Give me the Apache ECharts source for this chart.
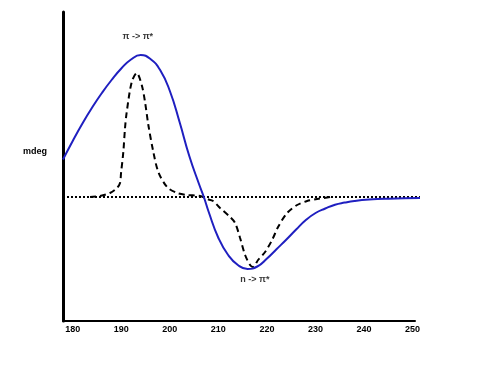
<!DOCTYPE html>
<html>
<head>
<meta charset="utf-8">
<script src="https://cdn.jsdelivr.net/npm/echarts@6/dist/echarts.min.js"></script>
<style>html,body{margin:0;padding:0;background:#fff}#c{width:489px;height:367px}</style>
</head>
<body>
<div id="c"></div>
<script>
// Wavelength (nm) tick labels
var xTicks = [180, 190, 200, 210, 220, 230, 240, 250];
// Solid blue CD spectrum: [wavelength, mdeg]
var solidCurve = [
  [178, 3.75], [180, 5.6], [182, 7.35], [184, 8.95], [186, 10.4], [188, 11.7],
  [190, 12.85], [192, 13.75], [194, 14.2], [196, 13.8], [198, 12.7], [200, 10.6],
  [202, 7.5], [204, 4.1], [206, 1.3], [207, 0], [208, -1.5], [210, -4.1],
  [212, -5.8], [214, -6.8], [216, -7.2], [218, -6.95], [220, -6.15], [222, -5.2],
  [224, -4.25], [226, -3.25], [228, -2.3], [230, -1.6], [232, -1.15], [234, -0.77],
  [236, -0.56], [238, -0.4], [241, -0.26], [245, -0.17], [251.5, -0.1]
];
// Dashed black spectrum: [wavelength, mdeg]
var dashedCurve = [
  [183.56, 0], [185.62, 0.1], [187.68, 0.4], [189.12, 0.9], [189.74, 1.4],
  [189.95, 2.4], [190.42, 4.5], [190.77, 6.9], [191.12, 8.5], [192.15, 11.5],
  [193.18, 12.4], [194.21, 11.2], [194.89, 9.5], [195.57, 7.2], [196.6, 4.5],
  [197.63, 2.5], [199.42, 1.0], [201.48, 0.4], [203.54, 0.2], [206.22, 0.1],
  [207.66, -0.2], [208.9, -0.4], [210.34, -1.1], [212.4, -2.0], [213.43, -2.6],
  [214.46, -4.1], [215.49, -5.8], [216.52, -6.8], [217.13, -7.0], [218.16, -6.3],
  [219.6, -5.5], [221.05, -4.3], [222.28, -3.0], [224.14, -1.6], [226.2, -0.8],
  [228.26, -0.4], [230.32, -0.2], [233.0, 0]
];
// Zero baseline
var baseline = [[178, 0], [251.5, 0]];
// Annotations
var annotations = [
  { text: 'π -> π*', at: [193.4, 16.0] },
  { text: 'n -> π*', at: [217.5, -8.3] }
];

var FONT = 'Liberation Sans, Arial, sans-serif';
var chart = echarts.init(document.getElementById('c'));
chart.setOption({
  animation: false,
  backgroundColor: '#ffffff',
  grid: [
    { left: 63, right: 69, top: 12, bottom: 46 },
    { left: 63, right: 74, top: 12, bottom: 46 }
  ],
  xAxis: [
    {
      gridIndex: 0, type: 'value', min: 178, max: 251.5,
      axisLine: { show: false }, axisTick: { show: false },
      axisLabel: { show: false }, splitLine: { show: false }
    },
    {
      gridIndex: 1, type: 'value', min: 178, max: 250.5,
      axisLine: { onZero: false, lineStyle: { color: '#000', width: 2 } },
      axisTick: { show: false },
      splitLine: { show: false },
      axisLabel: {
        customValues: xTicks, color: '#000', fontSize: 9, fontWeight: 'bold',
        fontFamily: FONT, margin: 4
      }
    }
  ],
  yAxis: [
    {
      gridIndex: 0, type: 'value', min: -12.4, max: 18.5,
      axisLine: { show: true, lineStyle: { color: '#000', width: 3 } },
      axisTick: { show: false }, axisLabel: { show: false }, splitLine: { show: false }
    },
    {
      gridIndex: 1, type: 'value', min: -12.4, max: 18.5,
      axisLine: { show: false }, axisTick: { show: false },
      axisLabel: { show: false }, splitLine: { show: false }
    }
  ],
  series: [
    {
      type: 'line', data: baseline, symbol: 'none', silent: true,
      lineStyle: { color: '#000', width: 2, type: [2, 2] }
    },
    {
      type: 'line', data: dashedCurve, symbol: 'none', smooth: 0.3,
      lineStyle: { color: '#000', width: 2, type: [6, 4] }
    },
    {
      type: 'line', data: solidCurve, symbol: 'none', smooth: 0.5,
      lineStyle: { color: '#1f1fc0', width: 2 }
    },
    {
      type: 'scatter', symbolSize: 0, silent: true,
      data: annotations.map(function (a) { return { value: a.at, name: a.text }; }),
      label: {
        show: true, position: 'inside', formatter: '{b}', color: '#000',
        fontSize: 9, fontWeight: 'bold', fontFamily: FONT
      }
    }
  ],
  graphic: [
    {
      type: 'text', left: 23, top: 147,
      style: { text: 'mdeg', fill: '#000', fontSize: 9, fontWeight: 'bold', fontFamily: FONT }
    }
  ]
});
</script>
</body>
</html>
